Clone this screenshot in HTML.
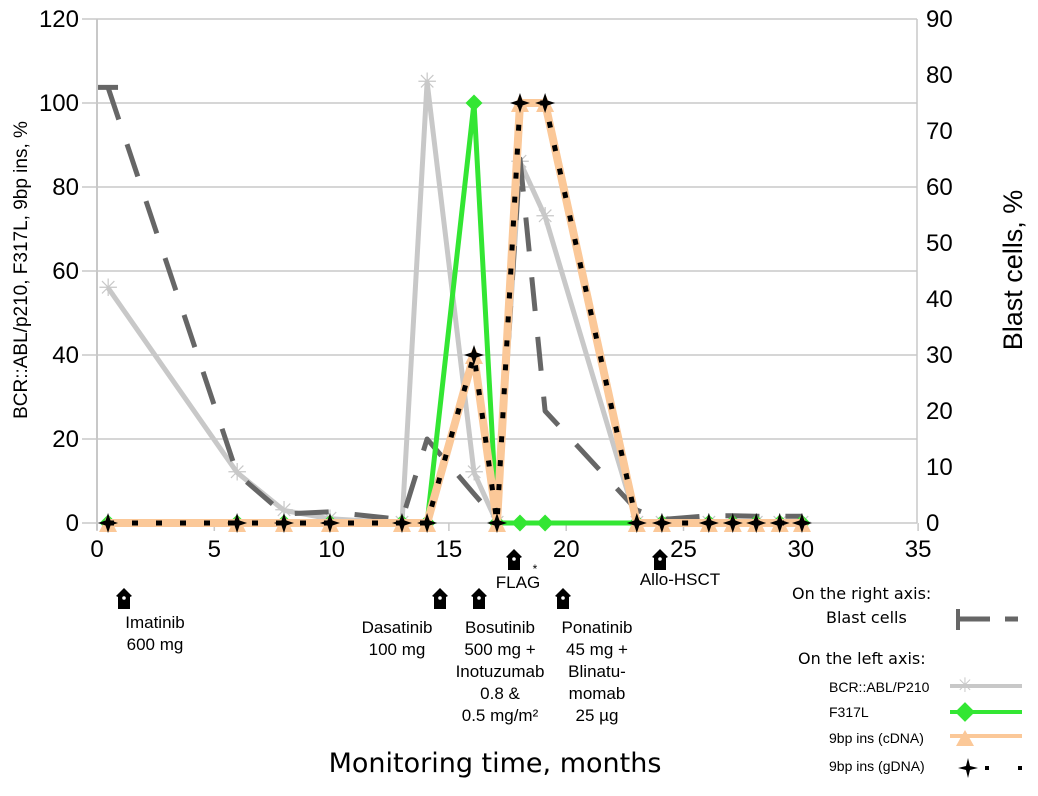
<!DOCTYPE html>
<html><head><meta charset="utf-8"><style>
body{margin:0;background:#fff;}
svg text{font-family:"Liberation Sans","DejaVu Sans",sans-serif;}
</style></head><body>
<svg id="chart" width="1038" height="791" viewBox="0 0 1038 791" xmlns="http://www.w3.org/2000/svg">
<g id="grid"></g>
<g id="axes"></g>
<g id="series"></g>
<text transform="translate(27,270) rotate(-90)" text-anchor="middle" font-size="19">BCR::ABL/p210, F317L, 9bp ins, %</text>
<text transform="translate(1022,270) rotate(-90)" text-anchor="middle" font-size="27">Blast cells, %</text>
<text x="495" y="772" text-anchor="middle" font-size="27" font-family="DejaVu Sans" style="font-family:'DejaVu Sans',sans-serif">Monitoring time, months</text>
<g id="ann" font-size="17" text-anchor="middle" style="font-family:'DejaVu Sans',sans-serif"></g>
<g id="legend" font-size="16">
<text x="792" y="599" style="font-family:'DejaVu Sans',sans-serif">On the right axis:</text>
<text x="826" y="623" style="font-family:'DejaVu Sans',sans-serif">Blast cells</text>
<line x1="958" y1="619" x2="990" y2="619" stroke="#666" stroke-width="5"/><line x1="958" y1="609" x2="958" y2="630" stroke="#666" stroke-width="4"/><line x1="1005" y1="619" x2="1018" y2="619" stroke="#666" stroke-width="5"/>
<text x="798" y="664" style="font-family:'DejaVu Sans',sans-serif">On the left axis:</text>
<text x="829" y="692" font-size="14">BCR::ABL/P210</text>
<line x1="950" y1="686" x2="1022" y2="686" stroke="#c8c8c8" stroke-width="4"/>
<text x="965" y="692" text-anchor="middle" font-size="20" fill="#c8c8c8">✳</text>
<text x="829" y="717" font-size="14">F317L</text>
<line x1="950" y1="712" x2="1022" y2="712" stroke="#33e633" stroke-width="4"/>
<rect x="958" y="705" width="14" height="14" fill="#33e633" transform="rotate(45 965 712)"/>
<text x="829" y="743" font-size="14">9bp ins  (cDNA)</text>
<line x1="950" y1="736" x2="1022" y2="736" stroke="#fbc898" stroke-width="4"/>
<polygon points="956,746 974,746 965,730" fill="#fbc898"/>
<text x="829" y="771" font-size="14">9bp ins  (gDNA)</text>
<path d="M968,758 L970,766 L978,768 L970,770 L968,778 L966,770 L958,768 L966,766Z" fill="#000"/>
<rect x="985" y="766" width="4" height="4" fill="#000"/><rect x="1018" y="766" width="4" height="4" fill="#000"/>
</g>
</svg>
<script>
const months=[0.47,5.97,7.97,9.93,13.0,14.07,16.07,17.05,18.03,19.1,23.01,24.08,26.08,27.1,28.1,29.1,30.05];
const blast=[77.8,8.8,1.6,2.0,0.6,15,5.2,0.5,65,20,2.3,0.6,1.3,1.3,1.2,1.2,1.2];
const bcrAbl=[56,12,3,1,0,105,12,0,86,73,0,0,0,0,0,0,0];
const f317l=[0,0,0,0,0,0,100,0,0,0,0,0,0,0,0,0,0];
const ins9cdna=[0,0,0,0,0,0,40,0,100,100,0,0,0,0,0,0,0];
const ins9gdna=[0,0,0,0,0,0,40,0,100,100,0,0,0,0,0,0,0];
const xTicks=[0,5,10,15,20,25,30,35];
const yLeftTicks=[0,20,40,60,80,100,120];
const yRightTicks=[0,10,20,30,40,50,60,70,80,90];
const NS="http://www.w3.org/2000/svg";
const X=v=>97+v*23.46, YL=v=>523-v*4.2, YR=v=>523-v*5.6;
function mk(tag,attrs,parent,txt){const e=document.createElementNS(NS,tag);for(const k in attrs)e.setAttribute(k,attrs[k]);if(txt!=null)e.textContent=txt;parent.appendChild(e);return e;}
const grid=document.getElementById('grid'),axes=document.getElementById('axes'),ser=document.getElementById('series'),ann=document.getElementById('ann');
yLeftTicks.forEach(t=>{
  mk('line',{x1:82,x2:917,y1:YL(t),y2:YL(t),stroke:'#c8c8c8','stroke-width':1.5},grid);
  const l=mk('text',{x:79,y:YL(t)+8,'text-anchor':'end','font-size':24},axes,t);
  
  
});
yRightTicks.forEach(t=>{
  const l=mk('text',{x:926,y:YR(t)+8,'font-size':24},axes,t);
  
  
});
mk('line',{x1:97,x2:97,y1:19,y2:530,stroke:'#c8c8c8','stroke-width':2},axes);
mk('line',{x1:917,x2:917,y1:19,y2:523,stroke:'#c8c8c8','stroke-width':1.5},axes);
xTicks.forEach(t=>{
  mk('line',{x1:X(t),x2:X(t),y1:523,y2:531,stroke:'#c8c8c8','stroke-width':1.5},axes);
  const l=mk('text',{x:X(t),y:557,'text-anchor':'middle','font-size':24},axes,t);
  
  
});
function line(vals,yf,attrs,name){
  const d=vals.map((v,i)=>(i?'L':'M')+X(months[i]).toFixed(1)+','+yf(v).toFixed(1)).join(' ');
  const p=mk('path',Object.assign({d:d,fill:'none','stroke-linejoin':'round'},attrs),ser);
  
  
}
line(bcrAbl,YL,{stroke:'#c8c8c8','stroke-width':5},'bcr-abl-line');
bcrAbl.forEach((v,i)=>{const cx=X(months[i]),cy=YL(v);
  const m=mk('text',{x:cx,y:cy+8,'text-anchor':'middle','font-size':24,fill:'#c8c8c8'},ser,'✳');
  
  });
line(blast,YR,{stroke:'#666','stroke-width':5,'stroke-dasharray':'34 26'},'blast-cells-line');
mk('line',{x1:X(months[0])-10,x2:X(months[0])+10,y1:YR(blast[0]),y2:YR(blast[0]),stroke:'#666','stroke-width':5},ser);
line(f317l,YL,{stroke:'#33e633','stroke-width':5},'f317l-line');
f317l.forEach((v,i)=>{const cx=X(months[i]),cy=YL(v);
  const m=mk('rect',{x:cx-6,y:cy-6,width:12,height:12,fill:'#33e633',transform:`rotate(45 ${cx} ${cy})`},ser);
  
  });
line(ins9cdna,YL,{stroke:'#fbc898','stroke-width':8},'9bp-cdna-line');
ins9cdna.forEach((v,i)=>{const cx=X(months[i]),cy=YL(v);
  const m=mk('polygon',{points:`${cx-9},${cy+9} ${cx+9},${cy+9} ${cx},${cy-9}`,fill:'#fbc898'},ser);
  
  });
line(ins9gdna,YL,{stroke:'#000','stroke-width':5,'stroke-dasharray':'6 18'},'9bp-gdna-line');
ins9gdna.forEach((v,i)=>{const cx=X(months[i]),cy=YL(v);
  const m=mk('path',{d:`M${cx},${cy-10} L${cx+2.5},${cy-2.5} L${cx+10},${cy} L${cx+2.5},${cy+2.5} L${cx},${cy+10} L${cx-2.5},${cy+2.5} L${cx-10},${cy} L${cx-2.5},${cy-2.5}Z`,fill:'#000'},ser);
  
  });
const arrows=[[124,588,'imatinib'],[440,588,'dasatinib'],[479,588,'bosutinib'],[563,588,'ponatinib'],[514,549,'flag'],[660,549,'allo-hsct']];
arrows.forEach(a=>{const [x,y]=a;
  const g=mk('g',{},ann);
  
  
  mk('path',{d:`M${x},${y} L${x+8},${y+8} L${x+6},${y+9} L${x+6},${y+21} L${x-6},${y+21} L${x-6},${y+9} L${x-8},${y+8}Z`,fill:'#000'},g);
  mk('circle',{cx:x,cy:y+10,r:1.8,fill:'#fff'},g);});
const labels=[[155,[ 'Imatinib','600 mg'],628],[397,['Dasatinib','100 mg'],633],[500,['Bosutinib','500 mg +','Inotuzumab','0.8 &','0.5 mg/m²'],633],[597,['Ponatinib','45 mg +','Blinatu-','momab','25 µg'],633],[518,['FLAG'],588],[680,['Allo-HSCT'],585]];
labels.forEach(l=>{l[1].forEach((s,j)=>{
  const t=mk('text',{x:l[0],y:l[2]+j*22},ann,s);
  
  });});
mk('text',{x:535,y:573,'font-size':12},ann,'*');
</script>
</body></html>
